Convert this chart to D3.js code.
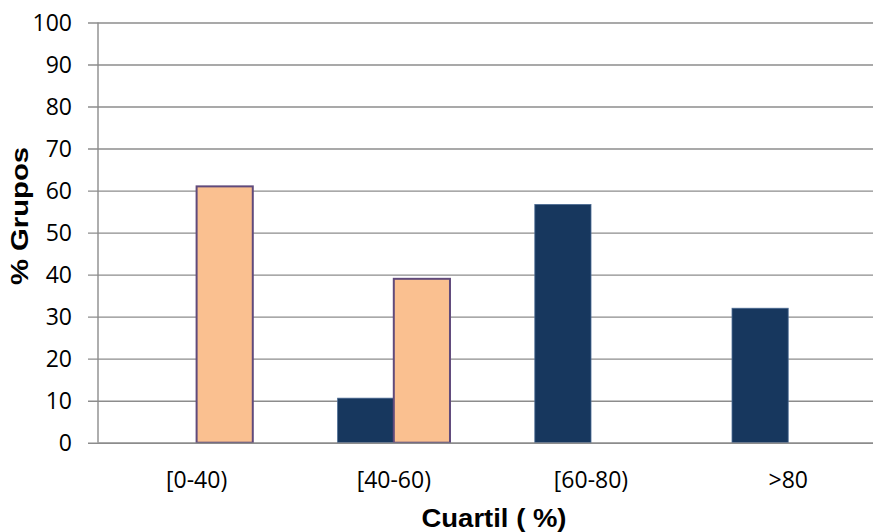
<!DOCTYPE html>
<html>
<head>
<meta charset="utf-8">
<script src="https://cdn.jsdelivr.net/npm/d3@7"></script>
<style>
  html, body { margin: 0; padding: 0; background: #fff; overflow: hidden; }
  svg { display: block; }
</style>
</head>
<body>
<svg id="chart" width="873" height="532"></svg>
<script>
// Share of groups per quartile band, two series
const categories = ["[0-40)", "[40-60)", "[60-80)", ">80"];
const seriesNames = ["serie1", "serie2"];
const serie1 = [0, 10.6, 56.7, 32];   // dark navy bars
const serie2 = [61, 39, 0, 0];        // peach bars
const yTicks = [0, 10, 20, 30, 40, 50, 60, 70, 80, 90, 100];
const xTitle = "Cuartil ( %)";
const yTitle = "% Grupos";

const colors = { serie1: "#17375E", serie2: "#FAC090" };
const strokes = { serie1: "#4A6A93", serie2: "#604A7B" };

const svg = d3.select("#chart");
// The plot area runs past the right edge of the canvas
const plot = { left: 98, right: 886.8, top: 22.5, bottom: 442.7 };

const x = d3.scaleBand().domain(categories).range([plot.left, plot.right]).paddingInner(0).paddingOuter(0);
const x1 = d3.scaleBand().domain(seriesNames).range([0, x.bandwidth()]).paddingInner(0).paddingOuter(0.755);
const y = d3.scaleLinear().domain([0, 100]).range([plot.bottom, plot.top]);

const gridColor = "#8C8C8C";
const tickFont = "'Open Sans', sans-serif";

// Horizontal gridlines with ticks extending left of the axis
const yAxis = d3.axisLeft(y).tickValues(yTicks).tickFormat(d3.format("d"))
  .tickSizeInner(-(plot.right - plot.left)).tickSizeOuter(0).tickPadding(0);
const gy = svg.append("g").attr("transform", `translate(${plot.left},0)`).call(yAxis);
gy.select(".domain").remove();
gy.selectAll(".tick line")
  .attr("x1", -10)
  .attr("stroke", gridColor).attr("stroke-width", 1.4);
gy.selectAll(".tick text")
  .attr("x", -26)
  .attr("dy", "0.36em")
  .attr("fill", "#000")
  .attr("text-anchor", "end")
  .style("font-family", tickFont)
  .style("font-size", "23px");

// Vertical axis line
svg.append("line")
  .attr("x1", plot.left).attr("x2", plot.left).attr("y1", plot.top).attr("y2", plot.bottom)
  .attr("stroke", gridColor).attr("stroke-width", 1.4);

// Bars
const rows = categories.map((c, i) => ({ cat: c, serie1: serie1[i], serie2: serie2[i] }));
const groups = svg.append("g").selectAll("g").data(rows).join("g")
  .attr("transform", d => `translate(${x(d.cat)},0)`);
groups.selectAll("rect")
  .data(d => seriesNames.map(k => ({ key: k, value: d[k] })).filter(e => e.value > 0))
  .join("rect")
  .attr("x", d => x1(d.key))
  .attr("width", x1.bandwidth())
  .attr("y", d => y(d.value))
  .attr("height", d => y(0) - y(d.value))
  .attr("fill", d => colors[d.key])
  .attr("stroke", d => strokes[d.key])
  .attr("stroke-width", d => d.key === "serie2" ? 2 : 0.8);

// Category axis
const xAxis = d3.axisBottom(x).tickSize(0).tickPadding(0);
const gx = svg.append("g").attr("transform", `translate(0,${plot.bottom})`).call(xAxis);
gx.select(".domain").attr("stroke", gridColor).attr("stroke-width", 1.4);
gx.selectAll(".tick text")
  .attr("y", 45.6)
  .attr("dy", 0)
  .attr("fill", "#000")
  .style("font-family", tickFont)
  .style("font-size", "23px");

// Axis titles
svg.append("text")
  .attr("x", 494).attr("y", 527)
  .attr("text-anchor", "middle")
  .style("font-family", "'Liberation Sans', Arial, sans-serif")
  .style("font-weight", "bold")
  .style("font-size", "25px")
  .attr("textLength", 145).attr("lengthAdjust", "spacingAndGlyphs")
  .text(xTitle);

svg.append("text")
  .attr("transform", "translate(28,216) rotate(-90)")
  .attr("text-anchor", "middle")
  .style("font-family", "'Liberation Sans', Arial, sans-serif")
  .style("font-weight", "bold")
  .style("font-size", "24px")
  .attr("textLength", 138).attr("lengthAdjust", "spacingAndGlyphs")
  .text(yTitle);
</script>
</body>
</html>
